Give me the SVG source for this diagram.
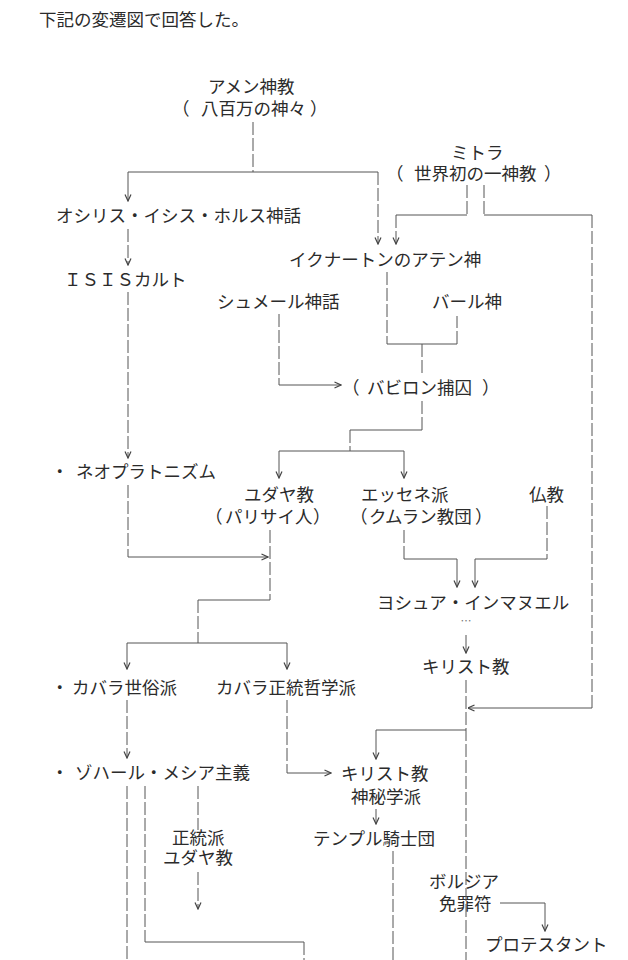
<svg xmlns="http://www.w3.org/2000/svg" width="628" height="960" viewBox="0 0 628 960">
<defs>
<style>
text{font-family:"Noto Sans CJK JP","Noto Sans CJK SC",sans-serif;font-size:17.5px;fill:#2b2b2b;}
.v{stroke:#555;stroke-width:1;fill:none;stroke-dasharray:13 3;}
.h{stroke:#555;stroke-width:1;fill:none;}
.a{marker-end:url(#ah);}
.dots{font-size:11px;fill:#777;}
</style>
<marker id="ah" viewBox="0 0 8 8" refX="7.5" refY="4" markerWidth="8" markerHeight="8" orient="auto" markerUnits="userSpaceOnUse">
<path d="M1,1 L7.5,4 L1,7" fill="none" stroke="#444" stroke-width="1.2" stroke-dasharray="none"/>
</marker>
</defs>
<rect width="628" height="960" fill="#fff"/>

<g id="title"><text x="39" y="26">下記の変遷図で回答した。</text></g>

<g id="amen"><text x="208" y="93">アメン神教</text><text y="115"><tspan x="172">（</tspan><tspan x="201">八百万の神々</tspan><tspan x="310">）</tspan></text></g>
<g id="mitra"><text x="451" y="159">ミトラ</text><text y="180"><tspan x="386">（</tspan><tspan x="414">世界初の一神教</tspan><tspan x="544">）</tspan></text></g>
<g id="osiris"><text x="56" y="222">オシリス・イシス・ホルス神話</text></g>
<g id="ikhnaton"><text x="289" y="266">イクナートンのアテン神</text></g>
<g id="isis"><text x="64" y="286">ＩＳＩＳカルト</text></g>
<g id="sumer"><text x="217" y="308">シュメール神話</text></g>
<g id="baal"><text x="432" y="308">バール神</text></g>
<g id="babylon"><text y="394"><tspan x="342">（</tspan><tspan x="367">バビロン捕囚</tspan><tspan x="482">）</tspan></text></g>
<g id="neoplatonism"><text x="51" y="478">・</text><text x="76" y="478">ネオプラトニズム</text></g>
<g id="judaism"><text x="244" y="501">ユダヤ教</text><text y="523"><tspan x="205">（</tspan><tspan x="225">パリサイ人</tspan><tspan x="313">）</tspan></text></g>
<g id="essene"><text x="361" y="501">エッセネ派</text><text y="523"><tspan x="350">（</tspan><tspan x="369">クムラン教団</tspan><tspan x="475">）</tspan></text></g>
<g id="buddhism"><text x="529" y="501">仏教</text></g>
<g id="yeshua"><text x="377" y="609">ヨシュア・インマヌエル</text><text class="dots" x="466" y="625" text-anchor="middle">…</text></g>
<g id="christianity"><text x="422" y="673">キリスト教</text></g>
<g id="kabbalah-secular"><text x="51" y="694">・</text><text x="72" y="694">カバラ世俗派</text></g>
<g id="kabbalah-orthodox"><text x="216" y="694">カバラ正統哲学派</text></g>
<g id="zohar"><text x="51" y="779">・</text><text x="75" y="779">ゾハール・メシア主義</text></g>
<g id="christian-mysticism"><text x="341" y="780">キリスト教</text><text x="351" y="803">神秘学派</text></g>
<g id="templar"><text x="313" y="845">テンプル騎士団</text></g>
<g id="orthodox-judaism"><text x="172" y="844">正統派</text><text x="163" y="864">ユダヤ教</text></g>
<g id="borgia"><text x="429" y="888">ボルジア</text><text x="439" y="910">免罪符</text></g>
<g id="protestant"><text x="485" y="951">プロテスタント</text></g>

<g id="connectors">
<line class="v" x1="253" y1="122" x2="253" y2="172"/>
<line class="h" x1="128" y1="172" x2="378" y2="172"/>
<line class="h a" x1="128" y1="172" x2="128" y2="201"/>
<line class="v a" x1="378" y1="172" x2="378" y2="244"/>
<line class="v" x1="467" y1="185" x2="467" y2="215"/>
<line class="h" x1="396" y1="215" x2="467" y2="215"/>
<line class="v a" x1="396" y1="215" x2="396" y2="244"/>
<line class="v" x1="484" y1="185" x2="484" y2="215"/>
<line class="h" x1="484" y1="215" x2="592" y2="215"/>
<line class="v" x1="592" y1="215" x2="592" y2="708"/>
<line class="h a" x1="592" y1="708" x2="468" y2="708"/>
<line class="v a" x1="128" y1="229" x2="128" y2="265"/>
<line class="v a" x1="128" y1="292" x2="128" y2="458"/>
<line class="v" x1="128" y1="485" x2="128" y2="557"/>
<line class="h a" x1="128" y1="557" x2="268" y2="557"/>
<line class="v" x1="387" y1="272" x2="387" y2="344"/>
<line class="h" x1="387" y1="344" x2="457" y2="344"/>
<line class="v" x1="457" y1="344" x2="457" y2="316"/>
<line class="v" x1="422" y1="344" x2="422" y2="374"/>
<line class="v" x1="279" y1="314" x2="279" y2="385"/>
<line class="h a" x1="279" y1="385" x2="341" y2="385"/>
<line class="v" x1="422" y1="401" x2="422" y2="430"/>
<line class="h" x1="350" y1="430" x2="422" y2="430"/>
<line class="v" x1="350" y1="430" x2="350" y2="451"/>
<line class="h" x1="279" y1="451" x2="404" y2="451"/>
<line class="h a" x1="279" y1="451" x2="279" y2="478"/>
<line class="h a" x1="404" y1="451" x2="404" y2="478"/>
<line class="v" x1="270" y1="530" x2="270" y2="600"/>
<line class="h" x1="198" y1="600" x2="270" y2="600"/>
<line class="v" x1="198" y1="600" x2="198" y2="643"/>
<line class="h" x1="127" y1="643" x2="287" y2="643"/>
<line class="h a" x1="127" y1="643" x2="127" y2="669"/>
<line class="h a" x1="287" y1="643" x2="287" y2="669"/>
<line class="v" x1="404" y1="530" x2="404" y2="559"/>
<line class="h" x1="404" y1="559" x2="457" y2="559"/>
<line class="h a" x1="457" y1="559" x2="457" y2="587"/>
<line class="v" x1="547" y1="506" x2="547" y2="559"/>
<line class="h" x1="475" y1="559" x2="547" y2="559"/>
<line class="h a" x1="475" y1="559" x2="475" y2="587"/>
<line class="h a" x1="466" y1="635" x2="466" y2="653"/>
<line class="v" x1="466" y1="680" x2="466" y2="960"/>
<line class="h" x1="376" y1="730" x2="466" y2="730"/>
<line class="h a" x1="376" y1="730" x2="376" y2="759"/>
<line class="v a" x1="127" y1="700" x2="127" y2="758"/>
<line class="v" x1="287" y1="700" x2="287" y2="773"/>
<line class="h a" x1="287" y1="773" x2="331" y2="773"/>
<line class="h a" x1="376" y1="809" x2="376" y2="824"/>
<line class="v" x1="393" y1="851" x2="393" y2="960"/>
<line class="v" x1="127" y1="786" x2="127" y2="960"/>
<line class="v" x1="145" y1="786" x2="145" y2="942"/>
<line class="h" x1="145" y1="942" x2="304" y2="942"/>
<line class="v" x1="304" y1="942" x2="304" y2="960"/>
<line class="v" x1="198" y1="786" x2="198" y2="830"/>
<line class="v a" x1="198" y1="872" x2="198" y2="909"/>
<line class="h" x1="500" y1="903" x2="545" y2="903"/>
<line class="h a" x1="545" y1="903" x2="545" y2="931"/>
</g>
</svg>
